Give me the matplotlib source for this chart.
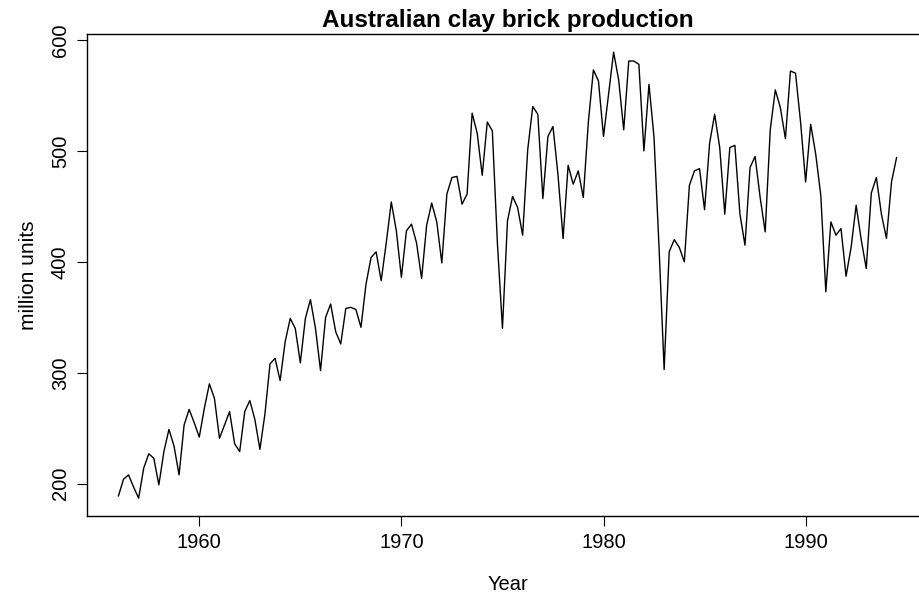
import matplotlib
matplotlib.use('Agg')
import matplotlib.pyplot as plt
import numpy as np

# Quarterly Australian clay brick production, 1956 Q1 - 1994 Q3
start_year = 1956
bricks = [
    189, 204, 208, 197, 187, 214, 227, 223, 199, 229, 249, 234,
    208, 253, 267, 255, 242, 268, 290, 277, 241, 253, 265, 236,
    229, 265, 275, 258, 231, 263, 308, 313, 293, 328, 349, 340,
    309, 349, 366, 340, 302, 350, 362, 337, 326, 358, 359, 357,
    341, 380, 404, 409, 383, 417, 454, 428, 386, 428, 434, 417,
    385, 433, 453, 436, 399, 461, 476, 477, 452, 461, 534, 516,
    478, 526, 518, 417, 340, 437, 459, 449, 424, 501, 540, 533,
    457, 513, 522, 478, 421, 487, 470, 482, 458, 526, 573, 563,
    513, 551, 589, 564, 519, 581, 581, 578, 500, 560, 512, 412,
    303, 409, 420, 413, 400, 469, 482, 484, 447, 507, 533, 503,
    443, 503, 505, 443, 415, 485, 495, 458, 427, 519, 555, 539,
    511, 572, 570, 526, 472, 524, 497, 460, 373, 436, 424, 430,
    387, 413, 451, 420, 394, 462, 476, 443, 421, 472, 494,
]
xticks = [1960, 1970, 1980, 1990]
yticks = [200, 300, 400, 500, 600]

t = start_year + np.arange(len(bricks)) / 4.0

plt.rcParams['font.family'] = ['Liberation Sans', 'DejaVu Sans']

fig = plt.figure(figsize=(9.19, 5.97), dpi=100)
ax = fig.add_axes([87.3 / 919, 1 - 516 / 597, (927.7 - 87.3) / 919, (516 - 34.3) / 597])

ax.plot(t, bricks, color='black', lw=1.0)

# R-style 4% padding
xr = t[-1] - t[0]
yr = max(bricks) - min(bricks)
ax.set_xlim(t[0] - 0.04 * xr, t[-1] + 0.04 * xr)
ax.set_ylim(min(bricks) - 0.04 * yr, max(bricks) + 0.04 * yr)

ax.set_xticks(xticks)
ax.set_yticks(yticks)
ax.set_yticklabels([str(v) for v in yticks], rotation=90, va='center')
ax.tick_params(axis='both', labelsize=14.5, length=7.5, width=0.8, direction='out', pad=5)

for s in ax.spines.values():
    s.set_linewidth(1.0)

ax.set_title('Australian clay brick production', fontsize=17.5, fontweight='bold', pad=5)
ax.set_xlabel('Year', fontsize=14.5, labelpad=16)
ax.set_ylabel('million units', fontsize=15, labelpad=9)

fig.savefig('out.png', dpi=100)
